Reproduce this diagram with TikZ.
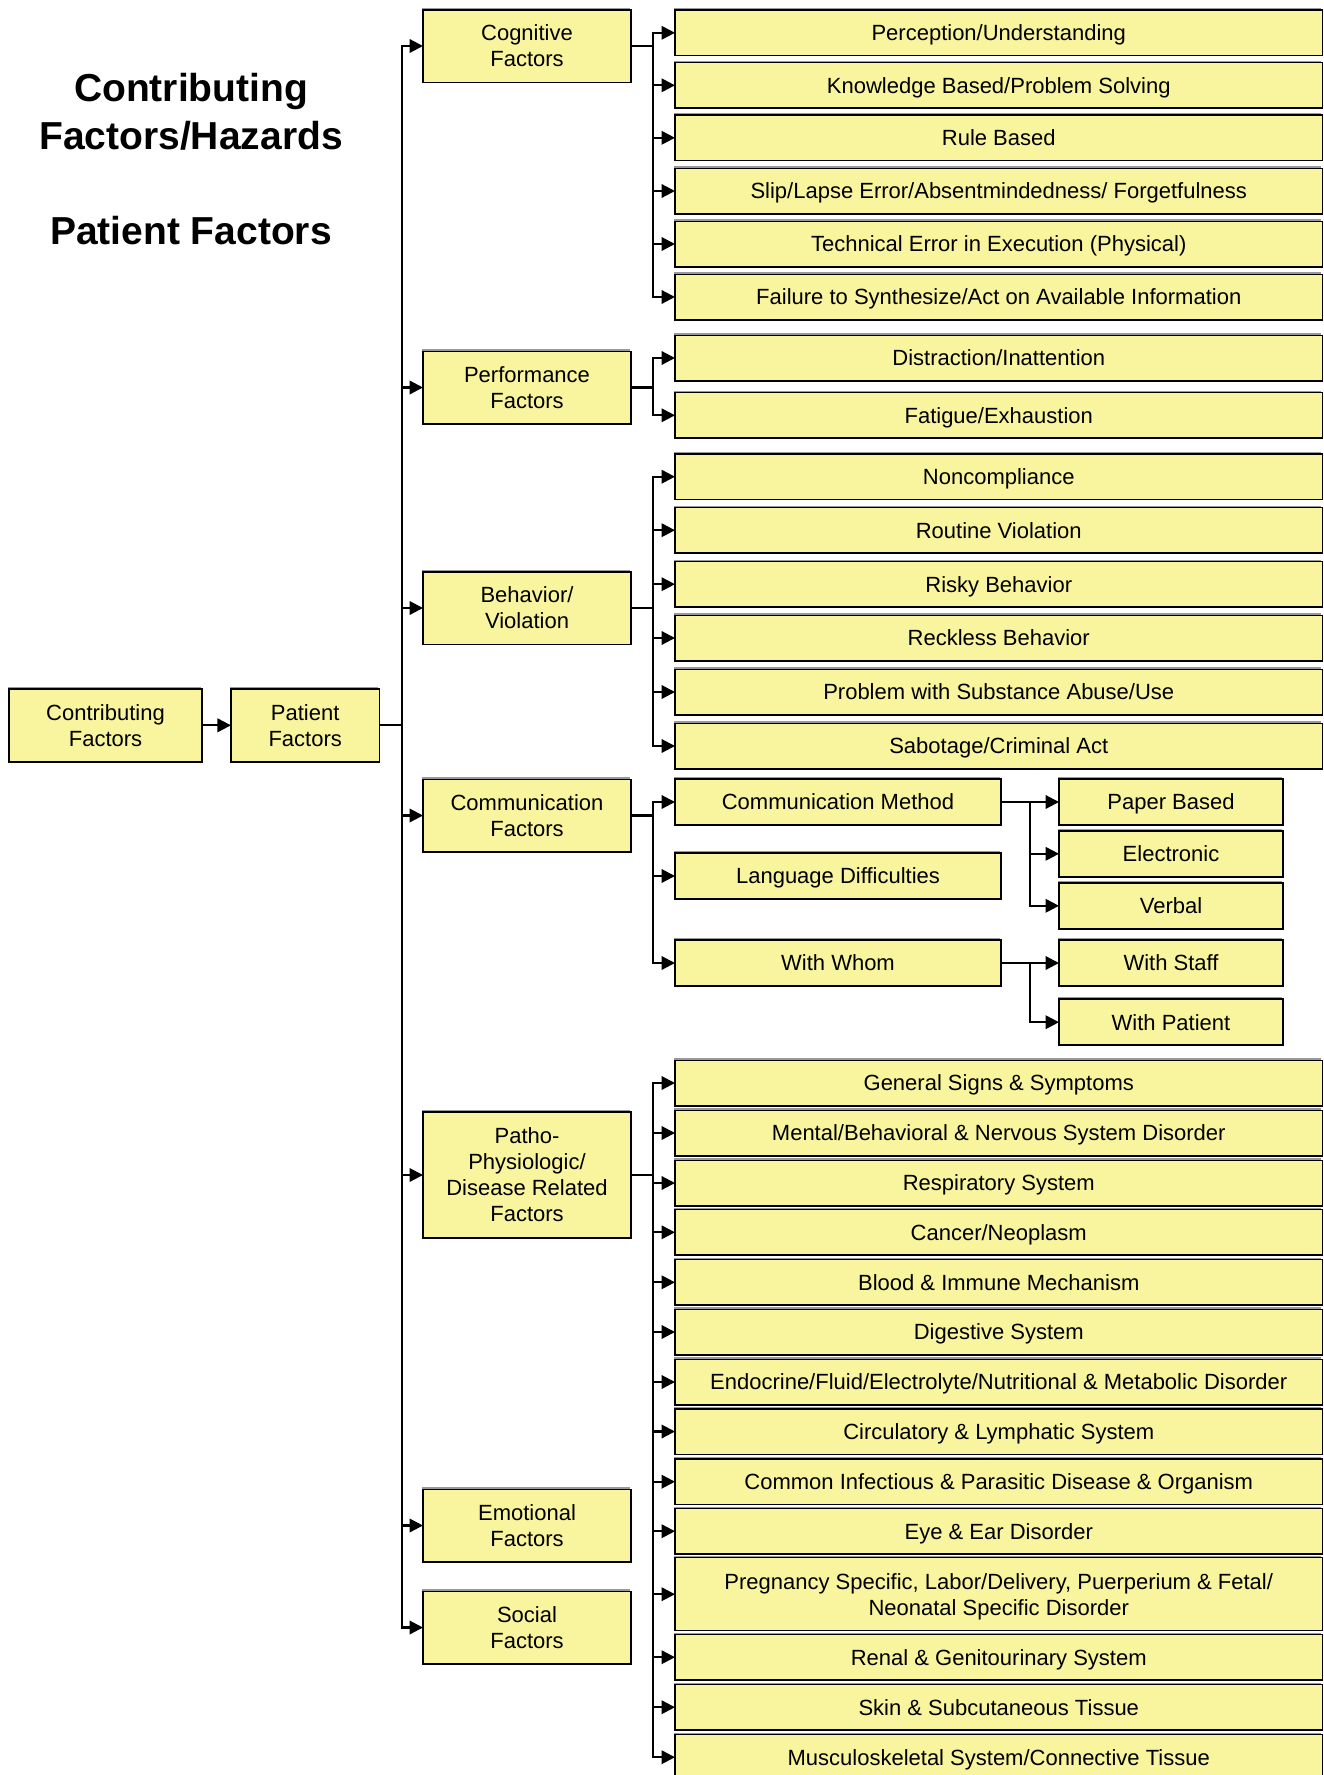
\documentclass[tikz,border=0pt]{standalone}
\usepackage{fontspec}
\setmainfont{Liberation Sans}
\usetikzlibrary{arrows.meta,shadows}
\definecolor{boxfill}{RGB}{249,244,158}
\begin{document}
\begin{tikzpicture}[x=1pt,y=-1pt,
  box/.style={draw=black, line width=1.5pt, fill=boxfill, inner sep=0pt, outer sep=0pt,
    align=center, text depth=0pt, font=\fontsize{22}{26}\selectfont,
    general shadow={fill=black!40, shadow xshift=-1.4pt, shadow yshift=1.8pt}},
  catbox/.style={box, minimum width=208pt, minimum height=72.5pt},
  itembox/.style={box, minimum width=647.5pt, minimum height=45.5pt},
  midbox/.style={box, minimum width=326pt, minimum height=46pt},
  leafbox/.style={box, minimum width=224pt, minimum height=46pt},
  heading/.style={anchor=base, font=\fontsize{39}{47}\bfseries\selectfont},
  link/.style={line width=2.2pt, -{Triangle[length=13.5pt,width=13.5pt]}},
]
\useasboundingbox (0,0) rectangle (1324,1775);
\clip (0,0) rectangle (1324,1775);

% headings
\node[heading] (h1) at (191,101.7) {Contributing};
\node[heading] (h2) at (191,149) {Factors/Hazards};
\node[heading] (h3) at (191,244.3) {Patient Factors};

% root boxes
\node[box, minimum width=193pt, minimum height=73pt] (contrib) at (105.5,725.3) {Contributing\\Factors};
\node[box, minimum width=148.5pt, minimum height=73pt] (patient) at (305.2,725.3) {Patient\\Factors};

% factor categories
\node[catbox] (cog)   at (527,46)     {Cognitive\\Factors};
\node[catbox] (perf)  at (527,387.5)  {Performance\\Factors};
\node[catbox] (beh)   at (527,608)    {Behavior/\\Violation};
\node[catbox] (comm)  at (527,815.5)  {Communication\\Factors};
\node[catbox, minimum height=126pt] (patho) at (527,1175) {Patho-\\Physiologic/\\Disease Related\\Factors};
\node[catbox] (emo)   at (527,1525.5) {Emotional\\Factors};
\node[catbox] (soc)   at (527,1627.5) {Social\\Factors};

% cognitive
\node[itembox] (c1) at (998.75,32.8)  {Perception/Understanding};
\node[itembox] (c2) at (998.75,85.3)  {Knowledge Based/Problem Solving};
\node[itembox] (c3) at (998.75,137.8) {Rule Based};
\node[itembox] (c4) at (998.75,191)   {Slip/Lapse Error/Absentmindedness/ Forgetfulness};
\node[itembox] (c5) at (998.75,244)   {Technical Error in Execution (Physical)};
\node[itembox] (c6) at (998.75,297)   {Failure to Synthesize/Act on Available Information};

% performance
\node[itembox] (p1) at (998.75,358)   {Distraction/Inattention};
\node[itembox] (p2) at (998.75,415.3) {Fatigue/Exhaustion};

% behavior
\node[itembox] (b1) at (998.75,476.7) {Noncompliance};
\node[itembox] (b2) at (998.75,530.2) {Routine Violation};
\node[itembox] (b3) at (998.75,584.2) {Risky Behavior};
\node[itembox] (b4) at (998.75,638)   {Reckless Behavior};
\node[itembox] (b5) at (998.75,692)   {Problem with Substance Abuse/Use};
\node[itembox] (b6) at (998.75,746)   {Sabotage/Criminal Act};

% communication
\node[midbox] (m1) at (838,802) {Communication Method};
\node[midbox] (m2) at (838,876) {Language Difficulties};
\node[midbox] (m3) at (838,963) {With Whom};
\node[leafbox] (l1) at (1171,802)    {Paper Based};
\node[leafbox] (l2) at (1171,853.8)  {Electronic};
\node[leafbox] (l3) at (1171,905.8)  {Verbal};
\node[leafbox] (l4) at (1171,963)    {With Staff};
\node[leafbox] (l5) at (1171,1022.2) {With Patient};

% patho-physiologic
\node[itembox] (d1)  at (998.75,1083)   {General Signs \& Symptoms};
\node[itembox] (d2)  at (998.75,1133)   {Mental/Behavioral \& Nervous System Disorder};
\node[itembox] (d3)  at (998.75,1183)   {Respiratory System};
\node[itembox] (d4)  at (998.75,1232.3) {Cancer/Neoplasm};
\node[itembox] (d5)  at (998.75,1282.3) {Blood \& Immune Mechanism};
\node[itembox] (d6)  at (998.75,1332)   {Digestive System};
\node[itembox] (d7)  at (998.75,1382)   {Endocrine/Fluid/Electrolyte/Nutritional \& Metabolic Disorder};
\node[itembox] (d8)  at (998.75,1431.5) {Circulatory \& Lymphatic System};
\node[itembox] (d9)  at (998.75,1481.7) {Common Infectious \& Parasitic Disease \& Organism};
\node[itembox] (d10) at (998.75,1531.2) {Eye \& Ear Disorder};
\node[itembox, minimum height=73pt] (d11) at (998.75,1594.2) {Pregnancy Specific, Labor/Delivery, Puerperium \& Fetal/\\Neonatal Specific Disorder};
\node[itembox] (d12) at (998.75,1657.2) {Renal \& Genitourinary System};
\node[itembox] (d13) at (998.75,1707.2) {Skin \& Subcutaneous Tissue};
\node[itembox] (d14) at (998.75,1757.2) {Musculoskeletal System/Connective Tissue};

% connectors
\draw[link] (contrib.east) -- (patient.west);
\foreach \t in {cog,perf,beh,comm,patho,emo,soc}
  \draw[link] (patient.east) -- ++(22.5,0) |- (\t.west);
\foreach \t in {c1,c2,c3,c4,c5,c6}
  \draw[link] (cog.east) -- ++(22,0) |- (\t.west);
\foreach \t in {p1,p2}
  \draw[link] (perf.east) -- ++(22,0) |- (\t.west);
\foreach \t in {b1,b2,b3,b4,b5,b6}
  \draw[link] (beh.east) -- ++(22,0) |- (\t.west);
\foreach \t in {m1,m2,m3}
  \draw[link] (comm.east) -- ++(22,0) |- (\t.west);
\foreach \t in {l1,l2,l3}
  \draw[link] (m1.east) -- ++(29,0) |- (\t.west);
\foreach \t in {l4,l5}
  \draw[link] (m3.east) -- ++(29,0) |- (\t.west);
\foreach \t in {d1,d2,d3,d4,d5,d6,d7,d8,d9,d10,d11,d12,d13,d14}
  \draw[link] (patho.east) -- ++(22,0) |- (\t.west);
\end{tikzpicture}
\end{document}
